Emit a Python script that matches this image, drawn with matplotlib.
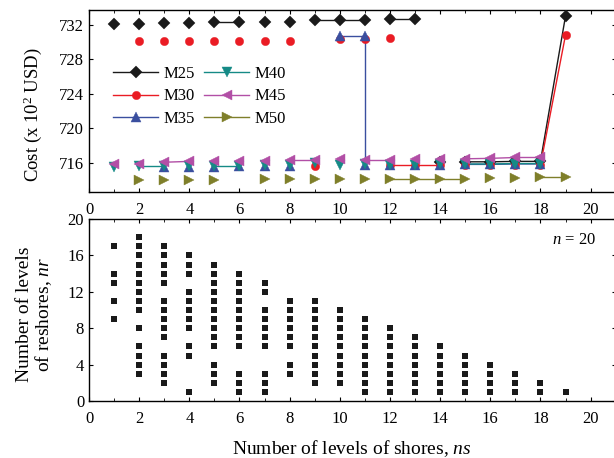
import numpy as np
import matplotlib
matplotlib.use('Agg')
import matplotlib.pyplot as plt
from matplotlib.lines import Line2D

plt.rcParams['font.family'] = ['Liberation Serif', 'DejaVu Serif']
plt.rcParams['mathtext.fontset'] = 'custom'
plt.rcParams['mathtext.rm'] = 'Liberation Serif'
plt.rcParams['mathtext.it'] = 'Liberation Serif:italic'
plt.rcParams['font.size'] = 11

## top panel data: cost per number of shores, one series per concrete class
# seg = line group of each point (0 = no line drawn to it)
m25_x = list(range(1, 20))
m25_y = [732.1, 732.1, 732.2, 732.2, 732.3, 732.3, 732.35, 732.35, 732.5, 732.5,
         732.5, 732.65, 732.65, 716.05, 716.1, 716.1, 716.15, 716.15, 733.0]
m25_seg = [0, 0, 0, 0, 1, 1, 0, 0, 2, 2, 2, 3, 3, 0, 4, 4, 4, 4, 4]

m30_x = [2, 3, 4, 5, 6, 7, 8, 9, 10, 11, 12, 12, 13, 14, 15, 16, 17, 18, 19]
m30_y = [730.05, 730.05, 730.05, 730.05, 730.1, 730.1, 730.1, 715.6, 730.3, 730.35,
         730.45, 715.7, 715.7, 715.7, 715.7, 715.7, 715.7, 715.7, 730.8]
m30_seg = [0] * 11 + [1, 1, 1, 0, 0, 0, 2, 2]

m35_x = [3, 4, 5, 6, 7, 8, 10, 11, 11, 12, 13, 14, 15, 16, 17, 18]
m35_y = [715.55, 715.55, 715.55, 715.6, 715.6, 715.6, 730.65, 730.65, 715.75, 715.7,
         715.7, 715.75, 715.8, 715.8, 715.85, 715.85]
m35_seg = [0, 0, 0, 0, 0, 0, 1, 1, 1, 0, 0, 0, 2, 2, 2, 2]

m40_x = list(range(1, 19))
m40_y = [715.5, 715.6, 715.6, 715.65, 715.65, 715.65, 715.7, 715.7, 716.0, 715.7,
         715.8, 715.75, 715.75, 715.8, 715.85, 715.85, 715.9, 715.9]
m40_seg = [0, 1, 1, 0, 2, 2, 0, 0, 0, 0, 0, 0, 0, 0, 3, 3, 3, 3]

m45_x = list(range(1, 19))
m45_y = [715.9, 715.9, 716.05, 716.15, 716.2, 716.2, 716.25, 716.35, 716.35, 716.45,
         716.35, 716.35, 716.4, 716.45, 716.45, 716.5, 716.6, 716.6]
m45_seg = [0, 0, 1, 1, 0, 0, 0, 2, 2, 0, 3, 3, 0, 0, 4, 4, 4, 4]

m50_x = [2, 3, 4, 5, 7, 8, 9, 10, 11, 12, 13, 14, 15, 16, 17, 18, 19]
m50_y = [713.95, 713.95, 713.95, 713.95, 714.05, 714.05, 714.05, 714.05, 714.15,
         714.15, 714.15, 714.15, 714.15, 714.25, 714.25, 714.35, 714.35]
m50_seg = [0] * 9 + [1, 1, 1, 1, 0, 0, 2, 2]

series = [
    ('M25', m25_x, m25_y, m25_seg, '#1a1a1a', 'D', 6.2),
    ('M30', m30_x, m30_y, m30_seg, '#ea1c24', 'o', 6.0),
    ('M35', m35_x, m35_y, m35_seg, '#3a4f9f', '^', 6.5),
    ('M40', m40_x, m40_y, m40_seg, '#158a86', 'v', 6.5),
    ('M45', m45_x, m45_y, m45_seg, '#b24fa6', '<', 7.0),
    ('M50', m50_x, m50_y, m50_seg, '#7f7f2a', '>', 7.0),
]

## bottom panel data: feasible nr values for every ns (n = 20)
ns_vals = list(range(1, 20))
nr_lists = [
    [17, 14, 13, 11, 9],
    [18, 17, 16, 15, 14, 13, 12, 11, 10, 8, 6, 5, 4, 3],
    [17, 16, 15, 14, 13, 11, 10, 9, 8, 7, 5, 4, 3, 2],
    [16, 15, 14, 12, 11, 10, 9, 8, 6, 5, 1],
    [15, 14, 13, 12, 11, 10, 9, 8, 7, 6, 4, 3, 2],
    [14, 13, 12, 11, 10, 9, 8, 7, 6, 3, 2, 1],
    [13, 12, 10, 9, 8, 7, 6, 3, 2, 1],
    [11, 10, 9, 8, 7, 6, 4, 3],
    [11, 10, 9, 8, 7, 6, 5, 4, 3, 2],
    [10, 9, 8, 7, 6, 5, 4, 3, 2],
    [9, 8, 7, 6, 5, 4, 3, 2, 1],
    [8, 7, 6, 5, 4, 3, 2, 1],
    [7, 6, 5, 4, 3, 2, 1],
    [6, 5, 4, 3, 2, 1],
    [5, 4, 3, 2, 1],
    [4, 3, 2, 1],
    [3, 2, 1],
    [2, 1],
    [1],
]

fig = plt.figure(figsize=(6.14, 4.58), dpi=100)
W, H = 614.0, 458.0
left = 89 / W
width = (21 * 25.08) / W
ax1 = fig.add_axes([left, 1 - 192 / H, width, (192 - 10) / H])
ax2 = fig.add_axes([left, 1 - 401 / H, width, (401 - 219) / H])

handles = []
for name, xs, ys, seg, col, mk, ms in series:
    xs = np.array(xs, dtype=float)
    ys = np.array(ys, dtype=float)
    seg = np.array(seg)
    for g in sorted(set(seg) - {0}):
        m = seg == g
        ax1.plot(xs[m], ys[m], '-', color=col, lw=1.0, zorder=2)
    ax1.plot(xs, ys, ls='none', marker=mk, color=col, ms=ms, mew=0.3, mec=col, zorder=3)
    handles.append(Line2D([], [], color=col, lw=1.0, marker=mk, ms=ms, mew=0.3, label=name))

ax1.legend(handles=handles, ncol=2, frameon=False, loc='upper left',
           bbox_to_anchor=(0.033, 0.73), handlelength=2.7, handletextpad=0.3,
           columnspacing=0.6, labelspacing=0.4, borderaxespad=0, fontsize=12)
ax1.set_xlim(0, 21)
ax1.set_ylim(712.6, 733.7)
ax1.set_yticks([716, 720, 724, 728, 732])
ax1.set_ylabel('Cost (x 10$^2$ USD)', fontsize=13.5)
ax1.yaxis.set_label_coords(-0.086, 0.425)

# bottom panel
px, py = [], []
for ns, nrs in zip(ns_vals, nr_lists):
    px += [ns] * len(nrs)
    py += nrs
ax2.plot(px, py, ls='none', marker='s', color='#1a1a1a', ms=4.9, mew=0)
ax2.set_xlim(0, 21)
ax2.set_ylim(0, 20)
ax2.set_yticks([0, 4, 8, 12, 16, 20])
ax2.text(20.2, 17.7, '$n$ = 20', ha='right', va='center', fontsize=12)
ax2.set_ylabel('Number of levels\nof reshores, $nr$', fontsize=14, linespacing=1.0)
ax2.yaxis.set_label_coords(-0.066, 0.475)
ax2.set_xlabel('Number of levels of shores, $ns$', fontsize=14)
ax2.xaxis.set_label_coords(0.5, -0.205)

for ax in (ax1, ax2):
    ax.set_xticks(np.arange(0, 21, 2))
    ax.set_xticks(np.arange(0, 22, 1), minor=True)
    ax.tick_params(which='both', direction='in', top=True, right=True, labelsize=12)
    ax.tick_params(which='major', length=3)
    ax.tick_params(which='minor', length=2)
    ax.tick_params(axis='x', pad=7)
    for sp in ax.spines.values():
        sp.set_linewidth(1.0)

fig.savefig('out.png', dpi=100)
